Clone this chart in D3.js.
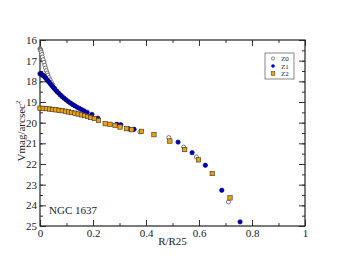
<!DOCTYPE html>
<html>
<head>
<meta charset="utf-8">
<script src="https://cdn.jsdelivr.net/npm/d3@7"></script>
<style>
  body { margin: 0; background: #fff; }
  text { font-family: "Liberation Serif", "DejaVu Serif", serif; }
</style>
</head>
<body>
<div id="chart"></div>
<script>
// data: R/R25 and V mag/arcsec^2
var z0R = [0, 0.001, 0.002, 0.003, 0.005, 0.007, 0.009, 0.012, 0.015, 0.018, 0.021, 0.024, 0.027, 0.030, 0.034, 0.038, 0.043, 0.048, 0.055, 0.065,
           0.377, 0.486, 0.542, 0.590, 0.711];
var z0V = [16.42, 16.45, 16.48, 16.52, 16.6, 16.7, 16.82, 16.95, 17.08, 17.22, 17.36, 17.48, 17.6, 17.7, 17.82, 17.93, 18.05, 18.17, 18.33, 18.5,
           20.45, 20.72, 21.18, 21.66, 23.84];

var z1R = [0, 0.004, 0.008, 0.012, 0.017, 0.022, 0.027, 0.032, 0.038, 0.044, 0.050, 0.056, 0.063, 0.070, 0.077, 0.084, 0.091, 0.099,
           0.107, 0.115, 0.123, 0.131, 0.140, 0.149, 0.158, 0.167, 0.178, 0.196, 0.218, 0.290, 0.305, 0.335, 0.355,
           0.521, 0.574, 0.624, 0.686, 0.755];
var z1V = [17.63, 17.65, 17.68, 17.72, 17.78, 17.85, 17.93, 18.01, 18.1, 18.2, 18.29, 18.38, 18.48, 18.57, 18.66, 18.74, 18.82, 18.9,
           18.98, 19.05, 19.12, 19.18, 19.25, 19.31, 19.37, 19.43, 19.5, 19.6, 19.78, 20.08, 20.1, 20.3, 20.32,
           20.94, 21.45, 22.06, 23.27, 24.8];

var z2R = [0, 0.012, 0.024, 0.036, 0.048, 0.060, 0.072, 0.084, 0.096, 0.108, 0.120, 0.132, 0.144, 0.156, 0.168, 0.180, 0.192, 0.205,
           0.221, 0.246, 0.264, 0.283, 0.302, 0.327, 0.346, 0.383, 0.430, 0.490, 0.546, 0.598, 0.650, 0.717];
var z2V = [19.3, 19.31, 19.32, 19.34, 19.36, 19.38, 19.4, 19.42, 19.45, 19.48, 19.51, 19.54, 19.58, 19.62, 19.66, 19.7, 19.75, 19.8,
           19.89, 20.05, 20.08, 20.13, 20.21, 20.29, 20.34, 20.42, 20.58, 20.89, 21.3, 21.8, 22.46, 23.64];

var xTicks = [0, 0.2, 0.4, 0.6, 0.8, 1];
var yTicks = [16, 17, 18, 19, 20, 21, 22, 23, 24, 25];
var legendNames = ["Z0", "Z1", "Z2"];

var svgWidth = 344, svgHeight = 266;
var margin = { top: 40, right: 39, bottom: 40, left: 40 };
var width = svgWidth - margin.left - margin.right;
var height = svgHeight - margin.top - margin.bottom;

var svg = d3.select("#chart").append("svg")
  .attr("width", svgWidth)
  .attr("height", svgHeight);

var chartGroup = svg.append("g")
  .attr("transform", `translate(${margin.left}, ${margin.top})`);

var x = d3.scaleLinear().domain([0, 1]).range([0, width]);
var y = d3.scaleLinear().domain([16, 25]).range([0, height]);

// minor ticks
var xMinor = d3.range(0, 1.0001, 0.1);
var yMinor = d3.range(16, 25.0001, 0.5);

function styleAxis(g) {
  g.select(".domain").remove();
  g.selectAll("line").attr("stroke", "#333");
  g.selectAll("text").attr("font-size", "11px").attr("fill", "#222");
}

chartGroup.append("g").attr("transform", `translate(0, ${height})`)
  .call(d3.axisBottom(x).tickValues(xMinor).tickSize(-3).tickFormat(""))
  .call(styleAxis);
chartGroup.append("g").attr("transform", `translate(0, ${height})`)
  .call(d3.axisBottom(x).tickValues(xTicks).tickSize(-6).tickPadding(3).tickFormat(d3.format("")))
  .call(styleAxis);
chartGroup.append("g")
  .call(d3.axisTop(x).tickValues(xMinor).tickSize(-3).tickFormat(""))
  .call(styleAxis);
chartGroup.append("g")
  .call(d3.axisTop(x).tickValues(xTicks).tickSize(-6).tickFormat(""))
  .call(styleAxis);

chartGroup.append("g")
  .call(d3.axisLeft(y).tickValues(yMinor).tickSize(-3).tickFormat(""))
  .call(styleAxis);
chartGroup.append("g")
  .call(d3.axisLeft(y).tickValues(yTicks).tickSize(-6).tickPadding(3).tickFormat(d3.format("d")))
  .call(styleAxis);
chartGroup.append("g").attr("transform", `translate(${width}, 0)`)
  .call(d3.axisRight(y).tickValues(yMinor).tickSize(-3).tickFormat(""))
  .call(styleAxis);
chartGroup.append("g").attr("transform", `translate(${width}, 0)`)
  .call(d3.axisRight(y).tickValues(yTicks).tickSize(-6).tickFormat(""))
  .call(styleAxis);

// frame
chartGroup.append("rect")
  .attr("width", width).attr("height", height)
  .attr("fill", "none").attr("stroke", "#222").attr("stroke-width", 1.2);

// points
var z0 = z0R.map((r, i) => ({ r: r, v: z0V[i] }));
var z1 = z1R.map((r, i) => ({ r: r, v: z1V[i] }));
var z2 = z2R.map((r, i) => ({ r: r, v: z2V[i] }));

chartGroup.selectAll(".z0").data(z0).enter().append("circle")
  .attr("class", "z0")
  .attr("cx", d => x(d.r)).attr("cy", d => y(d.v)).attr("r", 2)
  .attr("fill", "white").attr("stroke", "#555").attr("stroke-width", 0.8);

chartGroup.selectAll(".z1").data(z1).enter().append("circle")
  .attr("class", "z1")
  .attr("cx", d => x(d.r)).attr("cy", d => y(d.v)).attr("r", 2.2)
  .attr("fill", "#0000cc").attr("stroke", "#000044").attr("stroke-width", 0.6);

chartGroup.selectAll(".z2").data(z2).enter().append("rect")
  .attr("class", "z2")
  .attr("x", d => x(d.r) - 2.2).attr("y", d => y(d.v) - 2.2)
  .attr("width", 4.4).attr("height", 4.4)
  .attr("fill", "#f0a000").attr("stroke", "#333").attr("stroke-width", 0.6);

// legend
var legend = svg.append("g").attr("transform", "translate(265, 53)");
legend.append("rect").attr("width", 29).attr("height", 26)
  .attr("fill", "white").attr("stroke", "#888").attr("stroke-width", 1);
legendNames.forEach((name, i) => {
  var ly = 5.5 + i * 7.5;
  if (i === 0) {
    legend.append("circle").attr("cx", 8).attr("cy", ly).attr("r", 1.6)
      .attr("fill", "white").attr("stroke", "#555").attr("stroke-width", 0.7);
  } else if (i === 1) {
    legend.append("circle").attr("cx", 8).attr("cy", ly).attr("r", 1.8)
      .attr("fill", "#0000cc");
  } else {
    legend.append("rect").attr("x", 6.2).attr("y", ly - 1.8).attr("width", 3.6).attr("height", 3.6)
      .attr("fill", "#f0a000").attr("stroke", "#333").attr("stroke-width", 0.5);
  }
  legend.append("text").attr("x", 16).attr("y", ly + 2.5)
    .attr("font-size", "7px").attr("fill", "#222").text(name);
});

// labels
chartGroup.append("text")
  .attr("x", width / 2).attr("y", height + 19)
  .attr("text-anchor", "middle").attr("font-size", "11px").attr("fill", "#222")
  .text("R/R25");

var yl = svg.append("text")
  .attr("transform", `translate(25, ${margin.top + height / 2 - 2}) rotate(-90)`)
  .attr("text-anchor", "middle").attr("font-size", "11px").attr("fill", "#222");
yl.append("tspan").text("Vmag/arcsec");
yl.append("tspan").attr("dy", -5).attr("font-size", "7px").text("2");

chartGroup.append("text")
  .attr("x", 9).attr("y", 174)
  .attr("font-size", "11px").attr("fill", "#222")
  .text("NGC 1637");
</script>
</body>
</html>
